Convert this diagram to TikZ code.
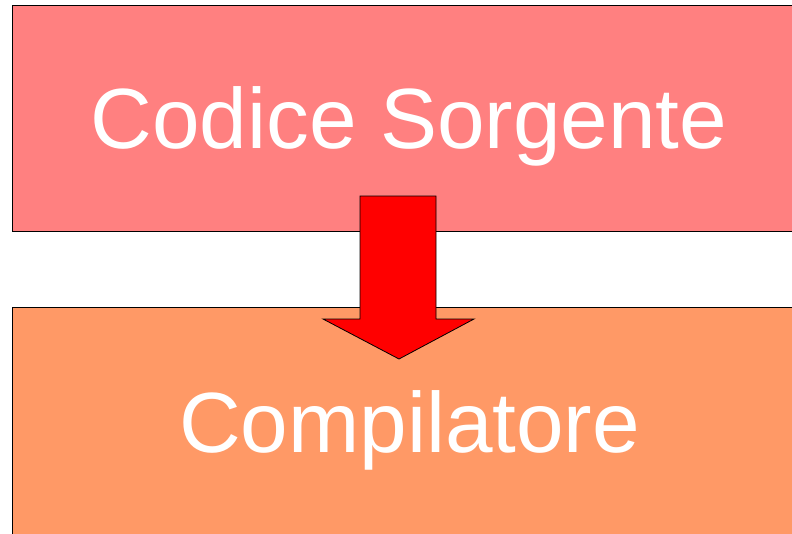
\documentclass[tikz,border=0pt]{standalone}
\usepackage{fontspec}
\setmainfont{Liberation Sans}
\usepackage{tikz}

\definecolor{srcpink}{HTML}{FF8080}
\definecolor{comporange}{HTML}{FF9966}

\begin{document}
\begin{tikzpicture}[x=1pt, y=-1pt, box/.style={draw=black, line width=0.8pt}, label/.style={text=white, font=\fontsize{85.5}{85.5}\selectfont, anchor=base}, flow/.style={draw=black, fill=red, line width=0.8pt, line join=miter}]
                \useasboundingbox (0,0) rectangle (792,533);
                \clip (0,0) rectangle (792,533);
                % boxes
                \draw[box, fill=srcpink]    (12,5) rectangle (800,231);
                \draw[box, fill=comporange] (12,307) rectangle (800,545);
                % nodes
                \node[label] (src)  at (409,148.5) {Codice Sorgente};
                \node[label] (comp) at (409.5,452) {Compilatore};
                % block arrow
                \draw[flow] (360,196) -- (436,196) -- (436,319) -- (474,319) -- (399,359) -- (323,319) -- (360,319) -- cycle;
            \end{tikzpicture}
\end{document}
